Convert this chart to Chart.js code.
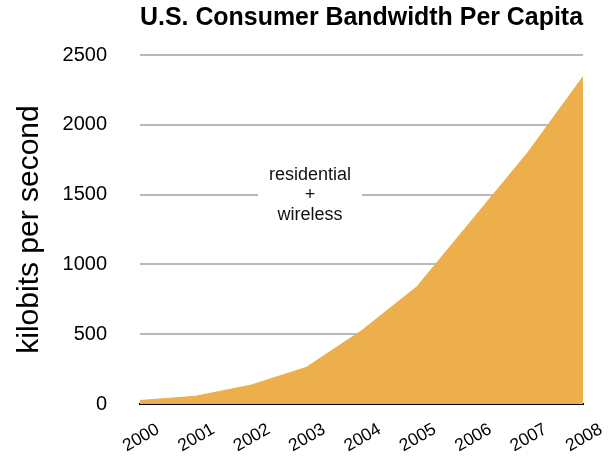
<!DOCTYPE html>
<html>
<head>
<meta charset="utf-8">
<script src="https://cdn.jsdelivr.net/npm/chart.js@4/dist/chart.umd.min.js"></script>
<style>
  html, body { margin: 0; padding: 0; background: #fff; }
  #wrap { width: 611px; height: 457px; }
</style>
</head>
<body>
<div id="wrap"><canvas id="chart" width="611" height="457"></canvas></div>
<script>
// data
const years = ["2000", "2001", "2002", "2003", "2004", "2005", "2006", "2007", "2008"];
const bandwidth = [25, 55, 135, 262, 525, 840, 1320, 1800, 2345];
const yTicks = [0, 500, 1000, 1500, 2000, 2500];
const noteLines = ["residential", "+", "wireless"];

const FONT = "'Liberation Sans', Arial, Helvetica, sans-serif";

// text note in the middle of the plot, with a white box behind it
const notePlugin = {
  id: "note",
  beforeDatasetsDraw(chart) {
    const ctx = chart.ctx;
    const x = chart.scales.x.getPixelForValue(3.07);
    const y = chart.scales.y.getPixelForValue(1500);
    ctx.save();
    ctx.font = "18px " + FONT;
    ctx.fillStyle = "#fff";
    ctx.fillRect(x - 52, y - 30, 104, 60);
    ctx.fillStyle = "#111";
    ctx.textAlign = "center";
    ctx.textBaseline = "middle";
    noteLines.forEach((line, i) => {
      ctx.fillText(line, x, y + (i - 1) * 20);
    });
    ctx.restore();
  }
};

new Chart(document.getElementById("chart"), {
  type: "line",
  data: {
    labels: years,
    datasets: [{
      data: bandwidth,
      fill: "origin",
      backgroundColor: "#ecaf4c",
      borderColor: "#ecaf4c",
      borderWidth: 1,
      pointRadius: 0,
      tension: 0
    }]
  },
  options: {
    responsive: false,
    animation: false,
    layout: { padding: { left: 6, right: 28, top: 3, bottom: 0 } },
    plugins: {
      legend: { display: false },
      tooltip: { enabled: false },
      title: {
        display: true,
        text: "U.S. Consumer Bandwidth Per Capita",
        fullSize: false,
        align: "end",
        color: "#000",
        font: { family: FONT, size: 25, weight: "bold" },
        padding: { top: 0, bottom: 22 }
      }
    },
    scales: {
      x: {
        type: "category",
        offset: false,
        grid: { display: false, drawTicks: false },
        border: { display: true, color: "#000", width: 2 },
        afterFit(scale) {
          scale.height = 53;
        },
        ticks: {
          color: "#000",
          font: { family: FONT, size: 17.5 },
          maxRotation: 30,
          minRotation: 30,
          padding: 15,
          labelOffset: 18,
          autoSkip: false
        }
      },
      y: {
        min: 0,
        max: 2500,
        afterBuildTicks(scale) {
          scale.ticks = yTicks.map(v => ({ value: v }));
        },
        afterFit(scale) {
          scale.width = 134;
        },
        grid: { color: "#b8b8b8", lineWidth: 2, drawTicks: false },
        border: { display: false },
        ticks: {
          color: "#000",
          font: { family: FONT, size: 20 },
          padding: 33,
          callback: v => String(v)
        },
        title: {
          display: true,
          text: "kilobits per second",
          color: "#000",
          font: { family: FONT, size: 30 },
          padding: { top: 6, bottom: 0 }
        }
      }
    }
  },
  plugins: [notePlugin]
});
</script>
</body>
</html>
